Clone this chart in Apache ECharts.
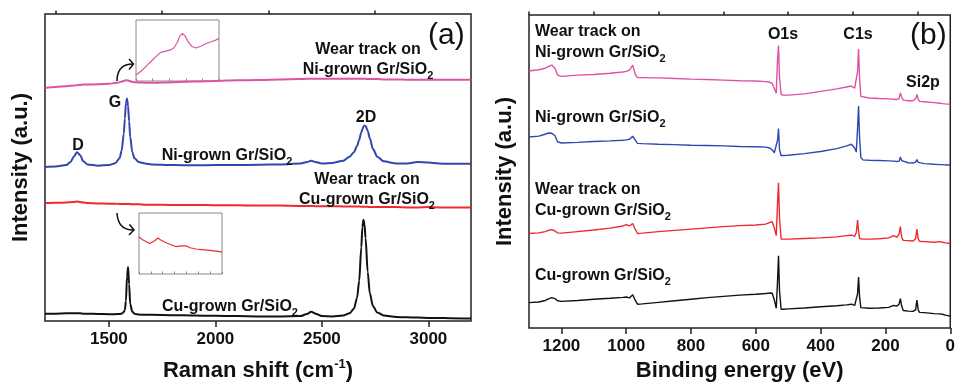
<!DOCTYPE html>
<html>
<head>
<meta charset="utf-8">
<script src="https://cdn.jsdelivr.net/npm/echarts@6.0.0/dist/echarts.min.js"></script>
<style>
  html, body { margin: 0; padding: 0; background: #fff; }
  #chart { width: 958px; height: 387px; }
</style>
</head>
<body>
<div id="chart"></div>
<script>
// (a) Raman spectra, intensity in a.u. (0 = bottom of frame, 100 = top)
const ramanShift = [1200, 1250, 1300, 1320, 1335, 1350, 1365, 1380, 1400, 1450, 1500, 1530, 1550, 1560, 1570, 1575, 1580, 1585, 1590, 1595, 1600, 1610, 1620, 1640, 1670, 1700, 1800, 1900, 2000, 2100, 2200, 2300, 2400, 2430, 2450, 2470, 2500, 2550, 2600, 2630, 2650, 2665, 2675, 2685, 2690, 2695, 2700, 2705, 2715, 2725, 2740, 2760, 2790, 2850, 2900, 2950, 3000, 3050, 3100, 3200];
const ramanCuGrown = [2.4, 2.4, 2.5, 2.5, 2.5, 2.5, 2.5, 2.4, 2.4, 2.3, 2.2, 2.2, 2.3, 2.4, 2.9, 3.6, 6.5, 14.5, 17.6, 12.0, 5.5, 3.0, 2.4, 2.1, 2.0, 2.0, 1.9, 1.8, 1.7, 1.6, 1.5, 1.5, 1.6, 2.3, 3.0, 2.4, 1.6, 1.5, 1.8, 2.5, 4.0, 7.5, 13.0, 24.0, 30.5, 33.0, 31.5, 27.0, 16.0, 9.0, 4.8, 2.8, 1.8, 1.3, 1.2, 1.1, 1.0, 1.0, 0.9, 0.8];
const ramanCuWear = [38.4, 38.5, 38.6, 38.7, 38.8, 38.9, 38.8, 38.6, 38.4, 38.3, 38.2, 38.2, 38.1, 38.1, 38.1, 38.1, 38.1, 38.1, 38.1, 38.1, 38.1, 38.0, 38.0, 38.0, 37.9, 37.9, 37.8, 37.8, 37.7, 37.7, 37.6, 37.6, 37.5, 37.5, 37.5, 37.4, 37.4, 37.4, 37.3, 37.3, 37.3, 37.3, 37.3, 37.2, 37.2, 37.2, 37.2, 37.2, 37.2, 37.1, 37.1, 37.1, 37.1, 37.1, 37.0, 37.0, 37.1, 37.0, 37.0, 37.0];
const ramanNiGrown = [50.2, 50.3, 50.8, 51.8, 53.5, 55.0, 54.0, 52.0, 51.0, 50.6, 50.8, 51.4, 53.0, 55.5, 61.0, 66.0, 71.0, 72.5, 70.0, 65.0, 60.0, 55.0, 53.0, 51.8, 51.3, 51.0, 50.8, 50.7, 50.8, 50.8, 50.9, 51.0, 51.3, 51.8, 52.2, 51.8, 51.3, 51.5, 52.2, 53.5, 55.0, 57.0, 59.0, 61.5, 62.5, 63.3, 63.7, 63.5, 62.0, 59.5, 56.0, 53.5, 52.0, 51.3, 51.3, 51.8, 51.6, 51.3, 51.2, 51.2];
const ramanNiWear = [75.9, 76.2, 76.5, 76.6, 76.7, 76.8, 76.9, 77.0, 77.0, 77.1, 77.3, 77.5, 77.8, 78.0, 78.2, 78.3, 78.4, 78.4, 78.3, 78.2, 78.1, 77.9, 77.8, 77.7, 77.6, 77.6, 77.8, 78.0, 78.2, 78.4, 78.5, 78.7, 78.8, 78.9, 78.9, 78.9, 78.9, 78.9, 78.9, 78.9, 78.9, 78.9, 78.9, 78.9, 78.9, 78.9, 78.9, 78.9, 78.8, 78.8, 78.8, 78.8, 78.7, 78.7, 78.6, 78.6, 78.6, 78.6, 78.6, 78.6];

// insets (zoomed wear-track spectra)
const insetNiShift = [1300, 1330, 1360, 1390, 1420, 1450, 1480, 1510, 1530, 1550, 1565, 1580, 1595, 1615, 1635, 1660, 1690, 1720, 1750, 1780, 1800];
const insetNiWear = [10, 16, 24, 32, 40, 47, 49, 51, 55, 64, 74, 78, 74, 64, 57, 54, 57, 61, 64, 67, 70];
const insetCuShift = [1200, 1230, 1290, 1330, 1360, 1380, 1420, 1470, 1510, 1560, 1600, 1630, 1680, 1730, 1780, 1830, 1870, 1900];
const insetCuWear = [61, 56, 50, 54, 59, 56, 52, 48, 45, 46, 46, 43, 41, 40, 39, 38, 37, 36];

// (b) XPS survey spectra
const bindingEnergy = [1300, 1270, 1250, 1240, 1230, 1220, 1212, 1200, 1150, 1100, 1050, 1010, 1000, 990, 980, 972, 965, 950, 900, 850, 800, 750, 700, 650, 600, 570, 560, 550, 543, 537, 533, 530, 527, 522, 515, 500, 450, 400, 350, 320, 305, 295, 290, 286, 283, 280, 276, 270, 250, 220, 190, 175, 165, 158, 154, 150, 145, 130, 115, 107, 103, 99, 95, 80, 50, 32, 28, 24, 15, 0];
const xpsNiWear = [82.1, 82.5, 83.0, 83.5, 84.0, 83.0, 80.8, 80.4, 80.8, 81.0, 81.4, 81.8, 82.0, 82.4, 84.0, 81.0, 80.0, 80.0, 79.9, 79.7, 79.5, 79.4, 79.2, 79.0, 78.9, 78.7, 78.6, 78.2, 76.5, 75.0, 86.0, 90.2, 80.0, 74.6, 74.4, 74.4, 74.8, 75.6, 76.4, 77.0, 77.3, 76.6, 76.0, 82.0, 89.1, 80.0, 74.0, 73.6, 73.5, 73.3, 73.2, 73.1, 73.0, 73.3, 75.1, 73.8, 72.8, 72.6, 72.6, 73.2, 74.6, 73.2, 72.4, 72.3, 72.0, 71.8, 72.0, 71.7, 71.6, 71.5];
const xpsNiGrown = [61.0, 61.3, 61.9, 62.3, 62.2, 61.5, 59.5, 59.1, 59.3, 59.6, 59.8, 60.0, 60.1, 60.3, 61.3, 60.0, 59.0, 58.9, 58.7, 58.6, 58.4, 58.3, 58.2, 58.0, 57.9, 57.8, 57.6, 57.0, 56.0, 55.4, 60.0, 63.7, 57.0, 55.1, 55.1, 55.2, 55.7, 56.4, 57.3, 58.2, 58.7, 57.5, 56.2, 64.0, 70.9, 61.0, 54.5, 53.7, 53.6, 53.5, 53.4, 53.3, 53.2, 53.3, 54.6, 53.5, 53.0, 52.8, 52.7, 53.0, 53.8, 52.9, 52.6, 52.5, 52.3, 52.2, 52.3, 52.2, 52.1, 52.1];
const xpsCuWear = [30.2, 30.4, 30.8, 31.2, 31.4, 31.0, 30.4, 30.3, 30.8, 31.3, 31.9, 32.6, 33.0, 32.6, 33.4, 31.5, 30.2, 30.3, 30.8, 31.2, 31.6, 32.0, 32.4, 32.7, 32.9, 33.2, 33.6, 34.0, 32.0, 29.5, 40.0, 46.4, 35.0, 28.4, 28.4, 28.4, 28.6, 28.8, 29.1, 29.5, 29.7, 29.3, 30.5, 34.5, 31.0, 28.6, 28.4, 28.4, 28.4, 28.5, 28.8, 29.5, 29.0, 30.0, 32.4, 29.0, 28.0, 27.9, 27.8, 28.5, 31.6, 28.5, 27.7, 27.6, 27.4, 27.6, 28.2, 27.4, 27.2, 27.0];
const xpsCuGrown = [8.1, 8.3, 8.8, 9.3, 9.7, 9.4, 8.7, 8.5, 8.8, 9.2, 9.5, 9.8, 9.9, 9.6, 10.6, 8.8, 7.6, 7.7, 8.2, 8.7, 9.2, 9.7, 10.1, 10.5, 10.8, 11.0, 11.1, 11.2, 9.0, 6.3, 15.0, 23.1, 12.0, 6.0, 6.0, 6.1, 6.4, 6.8, 7.1, 7.4, 7.6, 7.2, 6.9, 11.0, 16.3, 10.0, 6.5, 6.3, 6.3, 6.4, 6.6, 7.2, 7.0, 7.6, 9.4, 7.0, 5.6, 5.4, 5.3, 5.8, 8.9, 5.8, 5.0, 4.9, 4.6, 4.5, 5.1, 4.4, 4.1, 3.8];

// tick labels
const ramanLabels = [1500, 2000, 2500, 3000];
const ramanMinor = [1250, 1750, 2250, 2750];
const xpsLabels = [1200, 1000, 800, 600, 400, 200, 0];
const xpsMinor = [1300, 1100, 900, 700, 500, 300, 100];

const FONT = '"Liberation Sans", Arial, sans-serif';
const PINK = '#de52a4', BLUE = '#3246ae', RED = '#ee2a2f', BLACK = '#111';
const pairs = (xs, ys) => xs.map((x, i) => [x, ys[i]]);

const frame = { show: true, borderColor: '#222', borderWidth: 1.5, containLabel: false };
const inset = { show: true, borderColor: '#888', borderWidth: 1, backgroundColor: '#fff' };
const tickLabel = {
    fontFamily: FONT, fontWeight: 'bold', fontSize: 17, color: '#111', margin: 10,
    formatter: v => String(v)
};
const axisName = { fontFamily: FONT, fontWeight: 'bold', fontSize: 22, color: '#111' };

function majorX(grid, min, max, labels, extra) {
    return Object.assign({
        gridIndex: grid, type: 'value', min: min, max: max,
        axisLine: { show: false }, splitLine: { show: false },
        axisTick: { customValues: labels, length: 6, lineStyle: { color: '#222', width: 1.5 } },
        axisLabel: Object.assign({ customValues: labels }, tickLabel),
        nameLocation: 'middle', nameTextStyle: axisName
    }, extra);
}
function minorX(grid, min, max, ticks, extra) {
    return Object.assign({
        gridIndex: grid, type: 'value', min: min, max: max,
        axisLine: { show: false }, splitLine: { show: false }, axisLabel: { show: false },
        axisTick: { customValues: ticks, length: 3.5, lineStyle: { color: '#222', width: 1.5 } }
    }, extra);
}
function insetX(grid, min, max) {
    return {
        gridIndex: grid, type: 'value', min: min, max: max, interval: 100,
        axisLine: { show: false }, splitLine: { show: false }, axisLabel: { show: false },
        axisTick: { inside: true, length: 2.5, lineStyle: { color: '#888', width: 1 } }
    };
}
function hiddenY(grid, name) {
    return {
        gridIndex: grid, type: 'value', min: 0, max: 100,
        axisLine: { show: false }, axisTick: { show: false }, axisLabel: { show: false },
        splitLine: { show: false },
        name: name || '', nameLocation: 'middle', nameGap: 13, nameTextStyle: axisName
    };
}
function line(x, y, data, color, width, smooth) {
    return {
        type: 'line', xAxisIndex: x, yAxisIndex: y, data: data, showSymbol: false,
        smooth: smooth || false, smoothMonotone: 'x',
        lineStyle: { color: color, width: width }, itemStyle: { color: color }
    };
}

const subRich = {
    sub: { fontFamily: FONT, fontWeight: 'bold', fontSize: 11, verticalAlign: 'bottom', lineHeight: 22, fill: '#111' }
};
function txt(x, y, text, align, size, weight) {
    return {
        type: 'text', x: x, y: y, z: 10,
        style: {
            text: text, align: align || 'left', verticalAlign: 'middle',
            fontFamily: FONT, fontSize: size || 16, fontWeight: weight || 'bold',
            fill: '#111', rich: subRich
        }
    };
}
function arrow(x1, y1, cx, cy, x2, y2, head) {
    return [
        { type: 'bezierCurve', z: 10, shape: { x1: x1, y1: y1, x2: x2, y2: y2, cpx1: cx, cpy1: cy },
          style: { stroke: '#111', lineWidth: 1.5, fill: null } },
        { type: 'polyline', z: 10, shape: { points: head },
          style: { stroke: '#111', lineWidth: 1.5, fill: null } }
    ];
}

const chart = echarts.init(document.getElementById('chart'), null, { renderer: 'canvas' });
chart.setOption({
    animation: false,
    backgroundColor: '#fff',
    grid: [
        Object.assign({ left: 45, top: 14, width: 426, height: 314 }, frame),
        Object.assign({ left: 529, top: 15, width: 423, height: 313 }, frame),
        Object.assign({ left: 136, top: 20, width: 83, height: 61 }, inset),
        Object.assign({ left: 139, top: 213, width: 83, height: 61 }, inset)
    ],
    xAxis: [
        majorX(0, 1200, 3200, ramanLabels, {
            name: 'Raman shift (cm{sup|-1})', nameGap: 37,
            nameTextStyle: Object.assign({
                rich: { sup: { fontFamily: FONT, fontWeight: 'bold', fontSize: 13, verticalAlign: 'top', lineHeight: 26, color: '#111' } }
            }, axisName)
        }),
        minorX(0, 1200, 3200, ramanMinor),
        majorX(1, 0, 1300, xpsLabels, { inverse: true, name: 'Binding energy (eV)', nameGap: 32 }),
        minorX(1, 0, 1300, xpsMinor, { inverse: true }),
        insetX(2, 1300, 1800),
        insetX(3, 1200, 1900)
    ],
    yAxis: [
        hiddenY(0, 'Intensity (a.u.)'),
        hiddenY(1, 'Intensity (a.u.)'),
        hiddenY(2),
        hiddenY(3)
    ],
    series: [
        line(0, 0, pairs(ramanShift, ramanNiWear), PINK, 2, 0.3),
        line(0, 0, pairs(ramanShift, ramanNiGrown), BLUE, 2, 0.3),
        line(0, 0, pairs(ramanShift, ramanCuWear), RED, 2, 0.3),
        line(0, 0, pairs(ramanShift, ramanCuGrown), BLACK, 2, 0.3),
        line(2, 1, pairs(bindingEnergy, xpsNiWear), PINK, 1.4),
        line(2, 1, pairs(bindingEnergy, xpsNiGrown), BLUE, 1.4),
        line(2, 1, pairs(bindingEnergy, xpsCuWear), RED, 1.4),
        line(2, 1, pairs(bindingEnergy, xpsCuGrown), BLACK, 1.4),
        line(4, 2, pairs(insetNiShift, insetNiWear), PINK, 1.2),
        line(5, 3, pairs(insetCuShift, insetCuWear), RED, 1.2)
    ],
    graphic: [
        txt(428, 36, '(a)', 'left', 30, 'normal'),
        txt(368, 50, 'Wear track on', 'center'),
        txt(368, 70, 'Ni-grown Gr/SiO{sub|2}', 'center'),
        txt(115, 103, 'G', 'center'),
        txt(78, 146, 'D', 'center'),
        txt(366, 118, '2D', 'center'),
        txt(227, 156, 'Ni-grown Gr/SiO{sub|2}', 'center'),
        txt(367, 180, 'Wear track on', 'center'),
        txt(367, 200, 'Cu-grown Gr/SiO{sub|2}', 'center'),
        txt(230, 307, 'Cu-grown Gr/SiO{sub|2}', 'center'),
        txt(910, 36, '(b)', 'left', 30, 'normal'),
        txt(535, 32, 'Wear track on'),
        txt(535, 53, 'Ni-grown Gr/SiO{sub|2}'),
        txt(783, 35, 'O1s', 'center'),
        txt(858, 35, 'C1s', 'center'),
        txt(923, 83, 'Si2p', 'center'),
        txt(535, 118, 'Ni-grown Gr/SiO{sub|2}'),
        txt(535, 190, 'Wear track on'),
        txt(535, 211, 'Cu-grown Gr/SiO{sub|2}'),
        txt(535, 276, 'Cu-grown Gr/SiO{sub|2}')
    ]
        .concat(arrow(117, 81, 117, 64, 133, 64, [[129, 59], [133.5, 64], [129, 69.5]]))
        .concat(arrow(117, 213, 118, 230, 133, 230, [[129.5, 224.5], [134, 230], [129, 235]]))
});
</script>
</body>
</html>
